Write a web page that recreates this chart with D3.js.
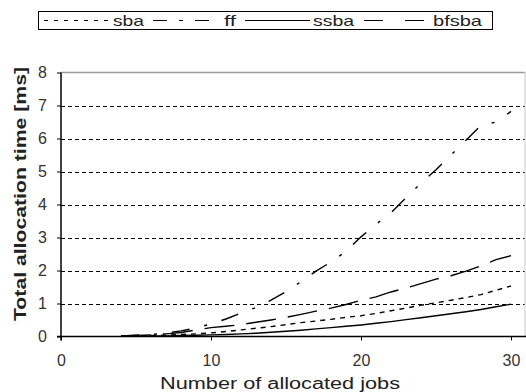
<!DOCTYPE html>
<html>
<head>
<meta charset="utf-8">
<script src="https://cdn.jsdelivr.net/npm/d3@7"></script>
<style>
  html, body { margin: 0; padding: 0; background: #fff; }
  svg { display: block; font-family: "Liberation Sans", Arial, sans-serif; }
</style>
</head>
<body>
<svg id="chart" width="526" height="392"></svg>
<script>
// Number of allocated jobs (x) and total allocation time in ms for each allocator
const jobs  = [4,5,6,7,8,9,10,11,12,13,14,15,16,17,18,19,20,21,22,23,24,25,26,27,28,29,30];
const sba   = [0.01,0.02,0.03,0.04,0.06,0.08,0.11,0.15,0.20,0.25,0.30,0.36,0.42,0.47,0.52,0.58,0.63,0.70,0.78,0.86,0.95,1.02,1.10,1.18,1.27,1.40,1.53];
const ff    = [0.02,0.04,0.06,0.10,0.17,0.26,0.38,0.53,0.71,0.88,1.10,1.36,1.66,1.98,2.26,2.58,3.02,3.40,3.75,4.20,4.65,5.05,5.50,5.95,6.40,6.50,6.82];
const ssba  = [0.01,0.01,0.02,0.02,0.03,0.04,0.05,0.06,0.08,0.10,0.13,0.16,0.19,0.23,0.27,0.31,0.35,0.40,0.45,0.51,0.57,0.63,0.69,0.75,0.82,0.90,0.98];
const bfsba = [0.02,0.03,0.05,0.08,0.12,0.20,0.27,0.31,0.36,0.43,0.50,0.58,0.67,0.77,0.86,0.97,1.10,1.20,1.35,1.47,1.60,1.74,1.84,1.98,2.14,2.33,2.45];

const seriesNames = ["sba", "ff", "ssba", "bfsba"];
const xTicks = [0, 10, 20, 30];
const yTicks = [0, 1, 2, 3, 4, 5, 6, 7, 8];

const series = [
  { name: "sba",   values: sba,   dash: "5,5",          legendDash: "4,6" },
  { name: "ff",    values: ff,    dash: "18,15,3,15",   legendDash: "14,12,4,12" },
  { name: "ssba",  values: ssba,  dash: null,           legendDash: null },
  { name: "bfsba", values: bfsba, dash: "30,12",        legendDash: "19,22" }
];

const svg = d3.select("#chart");
const plotLeft = 61, plotRight = 526, plotTop = 72.5, plotBottom = 336.5;

const x = d3.scaleLinear().domain([0, 31]).range([plotLeft, plotRight]);
const y = d3.scaleLinear().domain([0, 8]).range([plotBottom, plotTop]);

// horizontal dashed gridlines
svg.append("g")
  .selectAll("line")
  .data(yTicks.filter(v => v > 0 && v < 8))
  .join("line")
  .attr("x1", plotLeft).attr("x2", plotRight - 1)
  .attr("y1", d => Math.round(y(d)) + 0.5).attr("y2", d => Math.round(y(d)) + 0.5)
  .attr("stroke", "#000").attr("stroke-width", 1)
  .attr("stroke-dasharray", "4,3");

// plot frame (top and right edges)
svg.append("line")
  .attr("x1", plotLeft).attr("x2", plotRight - 1)
  .attr("y1", y(8)).attr("y2", y(8))
  .attr("stroke", "#9a9a9a").attr("stroke-width", 1.5);
svg.append("line")
  .attr("x1", plotRight - 1).attr("x2", plotRight - 1)
  .attr("y1", y(8)).attr("y2", plotBottom)
  .attr("stroke", "#c8c8c8").attr("stroke-width", 1);

// series lines
const line = d3.line()
  .x((d, i) => x(jobs[i]))
  .y(d => y(d));

svg.append("g")
  .selectAll("path")
  .data(series)
  .join("path")
  .attr("d", d => line(d.values))
  .attr("fill", "none")
  .attr("stroke", "#000")
  .attr("stroke-width", 1.4)
  .attr("stroke-dasharray", d => d.dash);

// axes
const yAxis = d3.axisLeft(y).tickValues(yTicks).tickSize(4).tickPadding(10).tickFormat(d3.format("d"));
const gy = svg.append("g").attr("transform", `translate(${plotLeft},0)`).call(yAxis);
gy.select(".domain").remove();
gy.append("line")
  .attr("x1", 0).attr("x2", 0)
  .attr("y1", y(8)).attr("y2", plotBottom + 4)
  .attr("stroke", "#000").attr("stroke-width", 1.5);

const xAxis = d3.axisBottom(x).tickValues(xTicks).tickSize(4).tickPadding(14).tickFormat(d3.format("d"));
const gx = svg.append("g").attr("transform", `translate(0,${plotBottom})`).call(xAxis);
gx.select(".domain").remove();
gx.append("line")
  .attr("x1", plotLeft - 4).attr("x2", plotRight)
  .attr("y1", 0).attr("y2", 0)
  .attr("stroke", "#000").attr("stroke-width", 1.5);

svg.selectAll(".tick line").attr("stroke", "#000");
svg.selectAll(".tick text")
  .attr("font-family", "'Liberation Sans', Arial, sans-serif")
  .attr("font-size", 16)
  .attr("fill", "#333");

// axis titles
svg.append("text")
  .attr("x", 280).attr("y", 389)
  .attr("text-anchor", "middle")
  .attr("font-size", 16)
  .attr("fill", "#222")
  .attr("textLength", 240)
  .attr("lengthAdjust", "spacingAndGlyphs")
  .text("Number of allocated jobs");

svg.append("text")
  .attr("transform", `translate(26,${194}) rotate(-90)`)
  .attr("text-anchor", "middle")
  .attr("font-size", 17)
  .attr("font-weight", "bold")
  .attr("fill", "#222")
  .attr("textLength", 254)
  .attr("lengthAdjust", "spacingAndGlyphs")
  .text("Total allocation time [ms]");

// legend
const legend = svg.append("g");
legend.append("rect")
  .attr("x", 38.5).attr("y", 11.5)
  .attr("width", 454).attr("height", 18)
  .attr("fill", "#fff").attr("stroke", "#000").attr("stroke-width", 1);

const legendPos = [
  { x1: 44,  x2: 111, tx: 113, w: 31 },
  { x1: 153, x2: 210, tx: 224, w: 12 },
  { x1: 245, x2: 310, tx: 313, w: 41 },
  { x1: 364, x2: 431, tx: 433, w: 49 }
];
const items = legend.selectAll("g.item")
  .data(series)
  .join("g").attr("class", "item");
items.append("line")
  .attr("x1", (d, i) => legendPos[i].x1).attr("x2", (d, i) => legendPos[i].x2)
  .attr("y1", 20.5).attr("y2", 20.5)
  .attr("stroke", "#000").attr("stroke-width", 1.2)
  .attr("stroke-dasharray", d => d.legendDash);
items.append("text")
  .attr("x", (d, i) => legendPos[i].tx).attr("y", 26)
  .attr("font-size", 15)
  .attr("fill", "#222")
  .attr("textLength", (d, i) => legendPos[i].w)
  .attr("lengthAdjust", "spacingAndGlyphs")
  .text((d, i) => seriesNames[i]);
</script>
</body>
</html>
